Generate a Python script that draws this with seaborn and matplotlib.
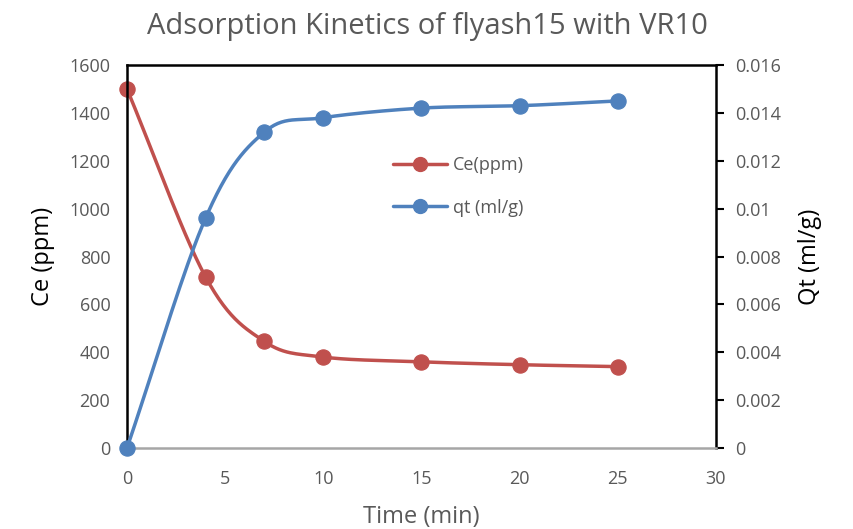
import numpy as np
import pandas as pd
import seaborn as sns
import matplotlib
matplotlib.use("Agg")
import matplotlib.pyplot as plt
from matplotlib.lines import Line2D

time_min = [0, 4, 7, 10, 15, 20, 25]
ce_ppm = [1500, 715, 445, 380, 360, 348, 340]
qt_mlg = [0.0, 0.0096, 0.0132, 0.0138, 0.0142, 0.0143, 0.0145]

sns.set_style("white")
plt.rcParams['font.family'] = ['Open Sans', 'DejaVu Sans']

RED = "#c0504d"
BLUE = "#4f81bd"
GREY = "#595959"


def smooth(x, y, n=30):
    # Catmull-Rom style smoothing like spreadsheet "smoothed line"
    x = np.asarray(x, float); y = np.asarray(y, float)
    px = np.concatenate([[2 * x[0] - x[1]], x, [2 * x[-1] - x[-2]]])
    py = np.concatenate([[2 * y[0] - y[1]], y, [2 * y[-1] - y[-2]]])
    xs, ys = [], []
    t = np.linspace(0, 1, n)
    for i in range(1, len(px) - 2):
        p0, p1, p2, p3 = [np.array([px[j], py[j]]) for j in range(i - 1, i + 3)]
        c1 = p1 + (p2 - p0) / 6
        c2 = p2 - (p3 - p1) / 6
        pts = ((1 - t) ** 3)[:, None] * p1 + (3 * (1 - t) ** 2 * t)[:, None] * c1 \
            + (3 * (1 - t) * t ** 2)[:, None] * c2 + (t ** 3)[:, None] * p2
        xs.extend(pts[:, 0]); ys.extend(pts[:, 1])
    return np.array(xs), np.array(ys)


fig = plt.figure(figsize=(8.54, 5.29), dpi=100)
ax = fig.add_axes([0.1487, 0.1531, 0.6897, 0.7240])
ax2 = ax.twinx()

df = pd.DataFrame({"time": time_min, "ce": ce_ppm, "qt": qt_mlg})
sx, sy = smooth(time_min, ce_ppm)
qx, qy = smooth(time_min, qt_mlg)

ax.plot(sx, sy, color=RED, lw=2.5, zorder=3)
sns.scatterplot(data=df, x="time", y="ce", ax=ax, color=RED, s=120, edgecolor=RED, zorder=4, clip_on=False)
ax2.plot(qx, qy, color=BLUE, lw=2.5, zorder=3, clip_on=False)
sns.scatterplot(data=df, x="time", y="qt", ax=ax2, color=BLUE, s=120, edgecolor=BLUE, zorder=4, clip_on=False)

ax.set_xlim(0, 30)
ax.set_ylim(0, 1600)
ax2.set_ylim(0, 0.016)
ax.set_xticks(range(0, 31, 5))
ax.set_yticks(range(0, 1601, 200))
ax2.set_yticks(np.arange(0, 0.0161, 0.002))
ax2.set_yticklabels(["0", "0.002", "0.004", "0.006", "0.008", "0.01", "0.012", "0.014", "0.016"])

for a in (ax, ax2):
    for s in a.spines.values():
        s.set_visible(False)
for side in ('left', 'top', 'right'):
    ax2.spines[side].set_visible(True)
    ax2.spines[side].set_color('black')
    ax2.spines[side].set_linewidth(1.8)
ax2.spines['bottom'].set_visible(True); ax2.spines['bottom'].set_color('#a6a6a6'); ax2.spines['bottom'].set_linewidth(1.8)

ax.tick_params(axis='x', length=0, labelsize=13, labelcolor=GREY, pad=16)
ax.tick_params(axis='y', length=0, labelsize=13, labelcolor=GREY, pad=12)
ax2.tick_params(axis='y', length=6, width=1.5, color='black', direction='out', labelsize=13, labelcolor=GREY, pad=8)

ax.set_xlabel("Time (min)", fontsize=17, color=GREY, labelpad=12)
ax.set_ylabel("Ce (ppm)", fontsize=17, color="black", labelpad=10)
ax2.set_ylabel("Qt (ml/g)", fontsize=17, color="black", labelpad=12)
ax.grid(False); ax2.grid(False)

fig.suptitle("Adsorption Kinetics of flyash15 with VR10", fontsize=21, color=GREY, x=0.5, y=0.978)

handles = [Line2D([], [], color=RED, lw=2.5, marker='o', markersize=10),
           Line2D([], [], color=BLUE, lw=2.5, marker='o', markersize=10)]
ax.legend(handles, ["Ce(ppm)", "qt (ml/g)"], loc='upper left', bbox_to_anchor=(0.452, 0.762),
          frameon=False, fontsize=13, labelcolor=GREY, handlelength=3.0, handletextpad=0.3,
          labelspacing=1.35, borderpad=0, borderaxespad=0)

fig.savefig("out.png", dpi=100)
